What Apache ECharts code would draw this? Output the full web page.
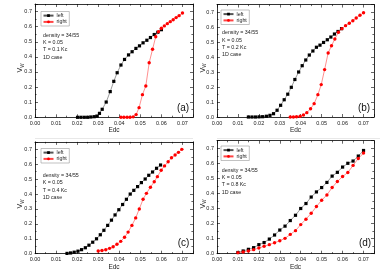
<!DOCTYPE html>
<html><head><meta charset="utf-8">
<script src="https://cdn.jsdelivr.net/npm/echarts@6/dist/echarts.min.js"></script>
<style>html,body{margin:0;padding:0;background:#fff}#c{width:390px;height:276px}</style>
</head><body><div id="c"></div>
<script>
// ---- data (Edc, v_W) ----
const aLeftX  = [0.0202,0.0218,0.0234,0.025,0.0265,0.0281,0.0294,0.0306,0.0319,0.0338,0.0357,0.0374,0.039,0.0408,0.0425,0.0444,0.0461,0.0479,0.0496,0.0513,0.0531,0.0548,0.0566,0.0583,0.06];
const aLeftY  = [0,0,0,0,0.002,0.004,0.008,0.026,0.053,0.101,0.17,0.238,0.295,0.346,0.383,0.413,0.434,0.456,0.473,0.493,0.51,0.528,0.548,0.563,0.58];
const aRightX = [0.0408,0.0422,0.0437,0.0451,0.0466,0.048,0.0494,0.051,0.0526,0.0542,0.0558,0.0573,0.0586,0.06,0.0614,0.0628,0.0642,0.0656,0.067,0.0684,0.07];
const aRightY = [0,0,0,0,0.003,0.018,0.064,0.15,0.207,0.361,0.45,0.533,0.567,0.589,0.605,0.62,0.633,0.646,0.66,0.673,0.69];

const bLeftX  = [0.015,0.0167,0.0184,0.0201,0.0218,0.0236,0.0253,0.027,0.0287,0.0304,0.0321,0.0338,0.0355,0.0372,0.039,0.0407,0.0424,0.0441,0.0458,0.0475,0.0492,0.0509,0.0527,0.0544,0.0561,0.0578,0.0595];
const bLeftY  = [0,0,0,0.001,0.002,0.005,0.011,0.022,0.045,0.078,0.115,0.152,0.198,0.25,0.3,0.342,0.38,0.413,0.44,0.465,0.479,0.497,0.515,0.533,0.553,0.57,0.589];
const bRightX = [0.035,0.0365,0.038,0.0397,0.0413,0.0429,0.0447,0.0464,0.0482,0.0498,0.0514,0.0531,0.0547,0.0563,0.058,0.0597,0.0614,0.0632,0.0649,0.0665,0.0683,0.07];
const bRightY = [0,0,0.002,0.005,0.013,0.029,0.055,0.089,0.149,0.216,0.316,0.427,0.475,0.52,0.565,0.589,0.609,0.625,0.642,0.66,0.678,0.695];

const cLeftX  = [0.0152,0.0169,0.0186,0.0204,0.0221,0.0239,0.0256,0.0274,0.0292,0.031,0.0327,0.0345,0.0363,0.038,0.0398,0.0416,0.0434,0.0452,0.0469,0.0487,0.0505,0.0523,0.054,0.0558,0.0577,0.0596];
const cLeftY  = [0.002,0.005,0.01,0.017,0.027,0.04,0.057,0.077,0.1,0.127,0.157,0.19,0.225,0.26,0.295,0.33,0.365,0.4,0.425,0.45,0.477,0.501,0.526,0.548,0.573,0.595];
const cRightX = [0.03,0.0318,0.0336,0.0354,0.0371,0.0389,0.0407,0.0425,0.0442,0.046,0.0478,0.0495,0.0513,0.0529,0.0548,0.0566,0.0581,0.0599,0.0615,0.0632,0.0648,0.0665,0.0681,0.0697];
const cRightY = [0.018,0.021,0.027,0.036,0.047,0.063,0.083,0.11,0.145,0.19,0.24,0.3,0.365,0.405,0.446,0.483,0.517,0.56,0.589,0.617,0.644,0.662,0.68,0.7];

const dX      = [0.01,0.0125,0.015,0.0175,0.02,0.0225,0.025,0.0275,0.03,0.0325,0.035,0.0375,0.04,0.0425,0.045,0.0475,0.05,0.0525,0.055,0.0575,0.06,0.0625,0.065,0.0675,0.07];
const dLeftY  = [0.008,0.018,0.029,0.04,0.06,0.074,0.097,0.124,0.157,0.183,0.22,0.255,0.3,0.333,0.376,0.41,0.439,0.473,0.515,0.54,0.575,0.6,0.615,0.648,0.685];
const dRightY = [0.007,0.011,0.018,0.027,0.038,0.049,0.06,0.073,0.086,0.102,0.128,0.153,0.193,0.229,0.268,0.313,0.355,0.39,0.439,0.479,0.512,0.539,0.586,0.632,0.668];

const seriesNames = ['left','right'];
const tempLabels = ['0.1','0.2','0.4','0.8'];
const panelTags = ['(a)','(b)','(c)','(d)'];
const annotation = T => 'density = 34/55\nK = 0.05\nT = ' + T + ' Kc\n1D case';

// ---- layout ----
const FONT = 'Liberation Sans, Arial, sans-serif';
const panels = [
  {grid:{left:35, top:4,   width:158, height:113.3}, lx:aLeftX, ly:aLeftY, rx:aRightX, ry:aRightY,
   leg:{left:43, top:11.5}, ann:{x:43, y:31.5}, tag:{x:183, y:108}, yt:{x:20.5, y:68}},
  {grid:{left:217, top:4.5, width:157, height:112.5}, lx:bLeftX, ly:bLeftY, rx:bRightX, ry:bRightY,
   leg:{left:223, top:10}, ann:{x:222, y:29.3}, tag:{x:364, y:108}, yt:{x:203, y:68}},
  {grid:{left:35, top:141.9, width:158, height:111.8}, lx:cLeftX, ly:cLeftY, rx:cRightX, ry:cRightY,
   leg:{left:43, top:148.5}, ann:{x:42.7, y:171.8}, tag:{x:183.5, y:243.3}, yt:{x:20.5, y:204}},
  {grid:{left:217, top:140.7, width:157, height:113}, lx:dX, ly:dLeftY, rx:dX, ry:dRightY,
   leg:{left:223, top:146}, ann:{x:221.7, y:166.5}, tag:{x:365, y:243.3}, yt:{x:203, y:204}}
];

const pair = (xs, ys) => xs.map((x, i) => [x, ys[i]]);
const tickCommon = {
  axisLine:{show:true, onZero:false, lineStyle:{color:'#000', width:0.8}},
  axisTick:{show:true, inside:true, length:3, lineStyle:{color:'#000', width:0.6}},
  minorTick:{show:true, splitNumber:2, length:1.6, lineStyle:{color:'#000', width:0.6}},
  splitLine:{show:false}, minorSplitLine:{show:false}
};
function xAx(gi, main){
  return Object.assign({type:'value', gridIndex:gi, min:0, max:0.075, interval:0.01,
    position: main ? 'bottom' : 'top',
    axisLabel:{show:main, fontSize:5.5, margin:3, color:'#222', fontFamily:FONT,
      formatter:v => v.toFixed(2), showMaxLabel:false},
    name: main ? 'Edc' : '', nameLocation:'middle', nameGap:8.5,
    nameTextStyle:{fontSize:6.5, color:'#222', fontFamily:FONT}}, JSON.parse(JSON.stringify(tickCommon)));
}
function yAx(gi, main){
  return Object.assign({type:'value', gridIndex:gi, min:0, max:0.75, interval:0.1,
    position: main ? 'left' : 'right',
    axisLabel:{show:main, fontSize:5.5, margin:3, color:'#222', fontFamily:FONT,
      formatter:v => v.toFixed(1), showMaxLabel:false}}, JSON.parse(JSON.stringify(tickCommon)));
}

const grid = [], xAxis = [], yAxis = [], series = [], legend = [], graphic = [];
panels.forEach((p, i) => {
  grid.push(Object.assign({show:false}, p.grid));
  xAxis.push(xAx(i, true), xAx(i, false));
  yAxis.push(yAx(i, true), yAx(i, false));
  series.push({name:seriesNames[0], type:'line', xAxisIndex:2*i, yAxisIndex:2*i,
    data:pair(p.lx, p.ly), symbol:'rect', symbolSize:3.2, showSymbol:true,
    lineStyle:{color:'#555', width:0.6}, itemStyle:{color:'#000'}, z:3});
  series.push({name:seriesNames[1], type:'line', xAxisIndex:2*i, yAxisIndex:2*i,
    data:pair(p.rx, p.ry), symbol:'circle', symbolSize:3.4, showSymbol:true,
    lineStyle:{color:'#f44', width:0.6}, itemStyle:{color:'#f00'}, z:4});
  legend.push({data:seriesNames, left:p.leg.left - 2, top:p.leg.top, orient:'vertical',
    itemWidth:10, itemHeight:3.4, itemGap:1.3, padding:[1.6,2.5,1.6,1.5],
    borderColor:'#999', borderWidth:0.6, selectedMode:false,
    textStyle:{fontSize:5.3, color:'#222', fontFamily:FONT, padding:[0,0,0,-2]}});
  graphic.push({type:'text', left:p.ann.x, top:p.ann.y, silent:true,
    style:{text:annotation(tempLabels[i]), fontSize:5.3, lineHeight:7.3, fill:'#222', fontFamily:FONT}});
  graphic.push({type:'text', x:p.tag.x, y:p.tag.y, silent:true,
    style:{text:panelTags[i], fontSize:10, fill:'#111', fontFamily:FONT, align:'center', verticalAlign:'middle'}});
  graphic.push({type:'text', x:p.yt.x, y:p.yt.y, rotation:Math.PI/2, silent:true,
    style:{text:'{v|V}{s|W}', align:'center', verticalAlign:'middle', fill:'#222',
      rich:{v:{fontSize:7, fontFamily:FONT, fill:'#222'}, s:{fontSize:4.5, fontFamily:FONT, fill:'#222', padding:[4,0,0,0]}}}});
});
graphic.push({type:'line', shape:{x1:35, y1:138.5, x2:193, y2:138.5}, style:{stroke:'#e2e2e2', lineWidth:0.8}, silent:true});
graphic.push({type:'line', shape:{x1:217, y1:138.5, x2:380, y2:138.5}, style:{stroke:'#e2e2e2', lineWidth:0.8}, silent:true});

const chart = echarts.init(document.getElementById('c'), null, {renderer:'canvas'});
chart.setOption({animation:false, backgroundColor:'#fff', grid, xAxis, yAxis, series, legend, graphic});
</script>
</body></html>
